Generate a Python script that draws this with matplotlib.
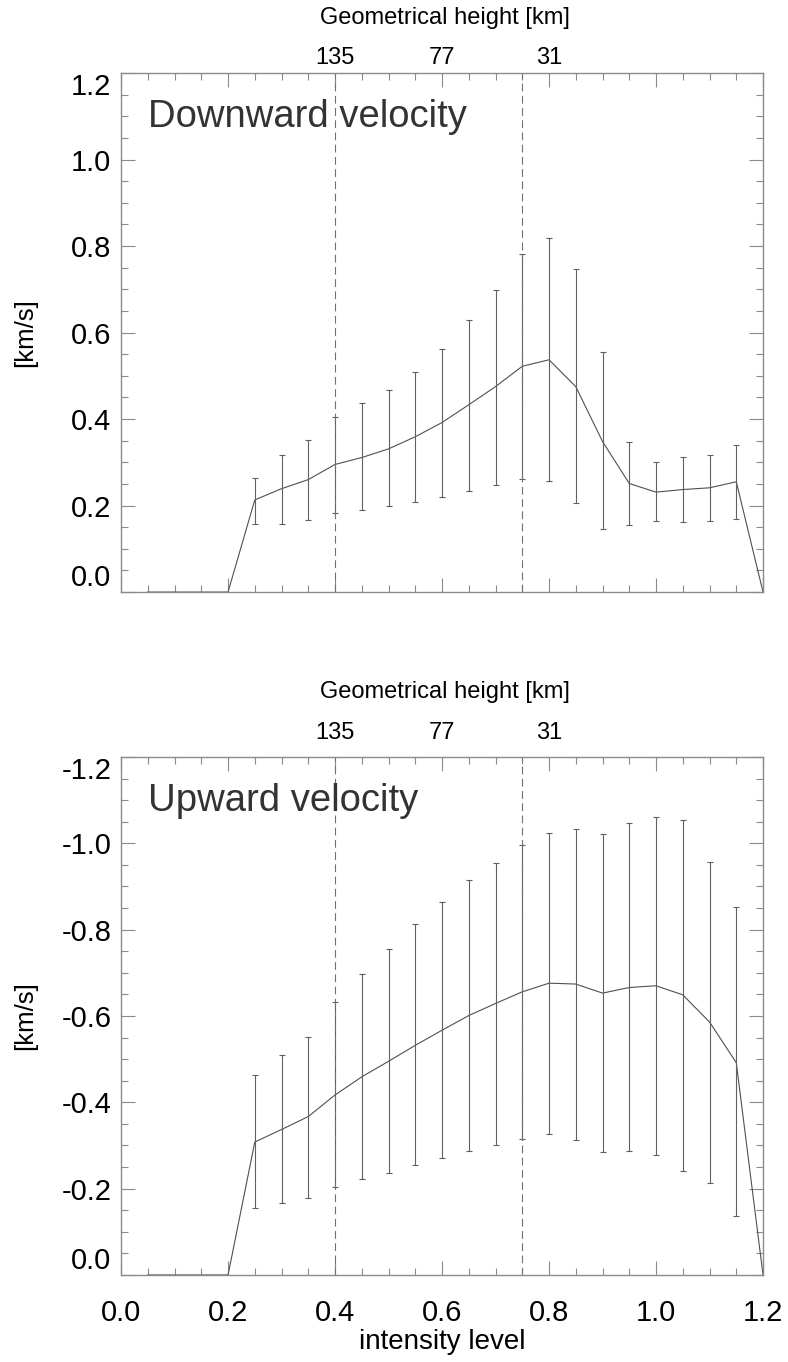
import matplotlib
matplotlib.use('Agg')
import numpy as np
import matplotlib.pyplot as plt
from matplotlib.ticker import MultipleLocator, FormatStrFormatter

plt.rcParams['font.family'] = ['Liberation Sans', 'DejaVu Sans']
plt.rcParams['axes.unicode_minus'] = False

# intensity levels (full curve) and levels that carry error bars
level = [0.05, 0.10, 0.15, 0.20, 0.25, 0.30, 0.35, 0.40, 0.45, 0.50, 0.55, 0.60,
         0.65, 0.70, 0.75, 0.80, 0.85, 0.90, 0.95, 1.00, 1.05, 1.10, 1.15, 1.20]
level_err = [0.25, 0.30, 0.35, 0.40, 0.45, 0.50, 0.55, 0.60, 0.65, 0.70,
             0.75, 0.80, 0.85, 0.90, 0.95, 1.00, 1.05, 1.10, 1.15]

# downward velocity [km/s]
down_mean = [0, 0, 0, 0, 0.213, 0.239, 0.260, 0.295, 0.311, 0.331, 0.359, 0.392,
             0.433, 0.475, 0.522, 0.537, 0.475, 0.348, 0.251, 0.231, 0.237, 0.241, 0.255, 0]
down_hi = [0.263, 0.318, 0.351, 0.404, 0.437, 0.467, 0.509, 0.563, 0.629, 0.699,
           0.781, 0.818, 0.746, 0.555, 0.348, 0.300, 0.312, 0.318, 0.341]
down_lo = [0.158, 0.158, 0.167, 0.182, 0.189, 0.198, 0.209, 0.220, 0.234, 0.247,
           0.261, 0.257, 0.205, 0.145, 0.156, 0.164, 0.163, 0.164, 0.170]

# upward velocity [km/s]
up_mean = [0, 0, 0, 0, -0.308, -0.337, -0.367, -0.417, -0.459, -0.495, -0.532, -0.567,
           -0.601, -0.629, -0.656, -0.676, -0.674, -0.653, -0.666, -0.670, -0.649, -0.586, -0.492, 0]
up_hi = [-0.462, -0.508, -0.555, -0.630, -0.696, -0.754, -0.810, -0.863, -0.914, -0.958,
         -0.998, -1.026, -1.036, -1.022, -1.045, -1.063, -1.057, -0.958, -0.847]
up_lo = [-0.152, -0.165, -0.182, -0.202, -0.220, -0.234, -0.251, -0.270, -0.288, -0.304,
         -0.316, -0.327, -0.314, -0.284, -0.284, -0.279, -0.243, -0.216, -0.131]

dash_levels = [0.4, 0.75]
height_pos = [0.4, 0.6, 0.8]
height_lab = ['135', '77', '31']

fig = plt.figure(figsize=(7.88, 13.62), dpi=100)
ax1 = fig.add_axes([0.1536, 0.5653, 0.8147, 0.3811])
ax2 = fig.add_axes([0.1536, 0.0639, 0.8147, 0.3803])

frame_col = '#8a8a8a'
line_col = '#505050'


def draw_panel(ax, mean, lo, hi, ylims, name, top_pad, top_lab_y):
    mean_e = [mean[level.index(x)] for x in level_err]
    yerr = [np.abs(np.array(mean_e) - np.array(lo)), np.abs(np.array(hi) - np.array(mean_e))]
    ax.plot(level, mean, color=line_col, lw=0.8)
    ax.errorbar(level_err, mean_e, yerr=yerr, fmt='none', ecolor='#606060',
                elinewidth=0.8, capsize=2.5, capthick=0.8)
    for d in dash_levels:
        ax.axvline(d, color='#707070', lw=0.8, ls=(0, (7, 4)))
    ax.set_xlim(0, 1.2)
    ax.set_ylim(*ylims)
    ax.xaxis.set_major_locator(MultipleLocator(0.2))
    ax.xaxis.set_minor_locator(MultipleLocator(0.05))
    ax.yaxis.set_major_locator(MultipleLocator(0.2))
    ax.yaxis.set_minor_locator(MultipleLocator(0.05))
    ax.xaxis.set_major_formatter(FormatStrFormatter('%.1f'))
    ax.yaxis.set_major_formatter(FormatStrFormatter('%.1f'))
    ax.tick_params(which='both', direction='in', top=True, right=True,
                   color=frame_col, width=0.8, labelsize=21)
    ax.tick_params(which='major', length=10)
    ax.tick_params(which='minor', length=5)
    ax.tick_params(axis='y', pad=7)
    ax.tick_params(axis='x', pad=17)
    for s in ax.spines.values():
        s.set_color(frame_col)
        s.set_linewidth(1.0)
    ax.text(0.05, 0.896, name, transform=ax.get_xaxis_transform(), fontsize=27.5,
            color='#333333', va='baseline', ha='left')
    ax.set_ylabel('[km/s]', fontsize=18.5)
    ax.yaxis.set_label_coords(-0.15, 0.5)
    ax.yaxis.label.set_va('center')

    sec = ax.secondary_xaxis('top')
    sec.set_xticks(height_pos, labels=height_lab)
    sec.tick_params(length=0, labelsize=17, pad=top_pad)
    sec.spines['top'].set_visible(False)
    ax.text(0.504, top_lab_y, 'Geometrical height [km]', transform=ax.transAxes,
            fontsize=17, ha='center', va='center')


draw_panel(ax1, down_mean, down_lo, down_hi, (0, 1.2), 'Downward velocity', 3, 1.106)
draw_panel(ax2, up_mean, up_lo, up_hi, (0, -1.2), 'Upward velocity', 9, 1.125)

ax1.tick_params(axis='x', labelbottom=False)
ax2.set_xlabel('intensity level', fontsize=20)
ax2.xaxis.set_label_coords(0.5, -0.13)
ax2.xaxis.label.set_va('center')

# push end labels inside the frame like the original
for ax in (ax1, ax2):
    fig.canvas.draw()
    for t in ax.yaxis.get_major_ticks():
        v = t.get_loc()
        if abs(v) < 1e-6:
            t.label1.set_va('bottom')
        elif abs(abs(v) - 1.2) < 1e-6:
            t.label1.set_va('top')

fig.savefig('out.png', dpi=100)
